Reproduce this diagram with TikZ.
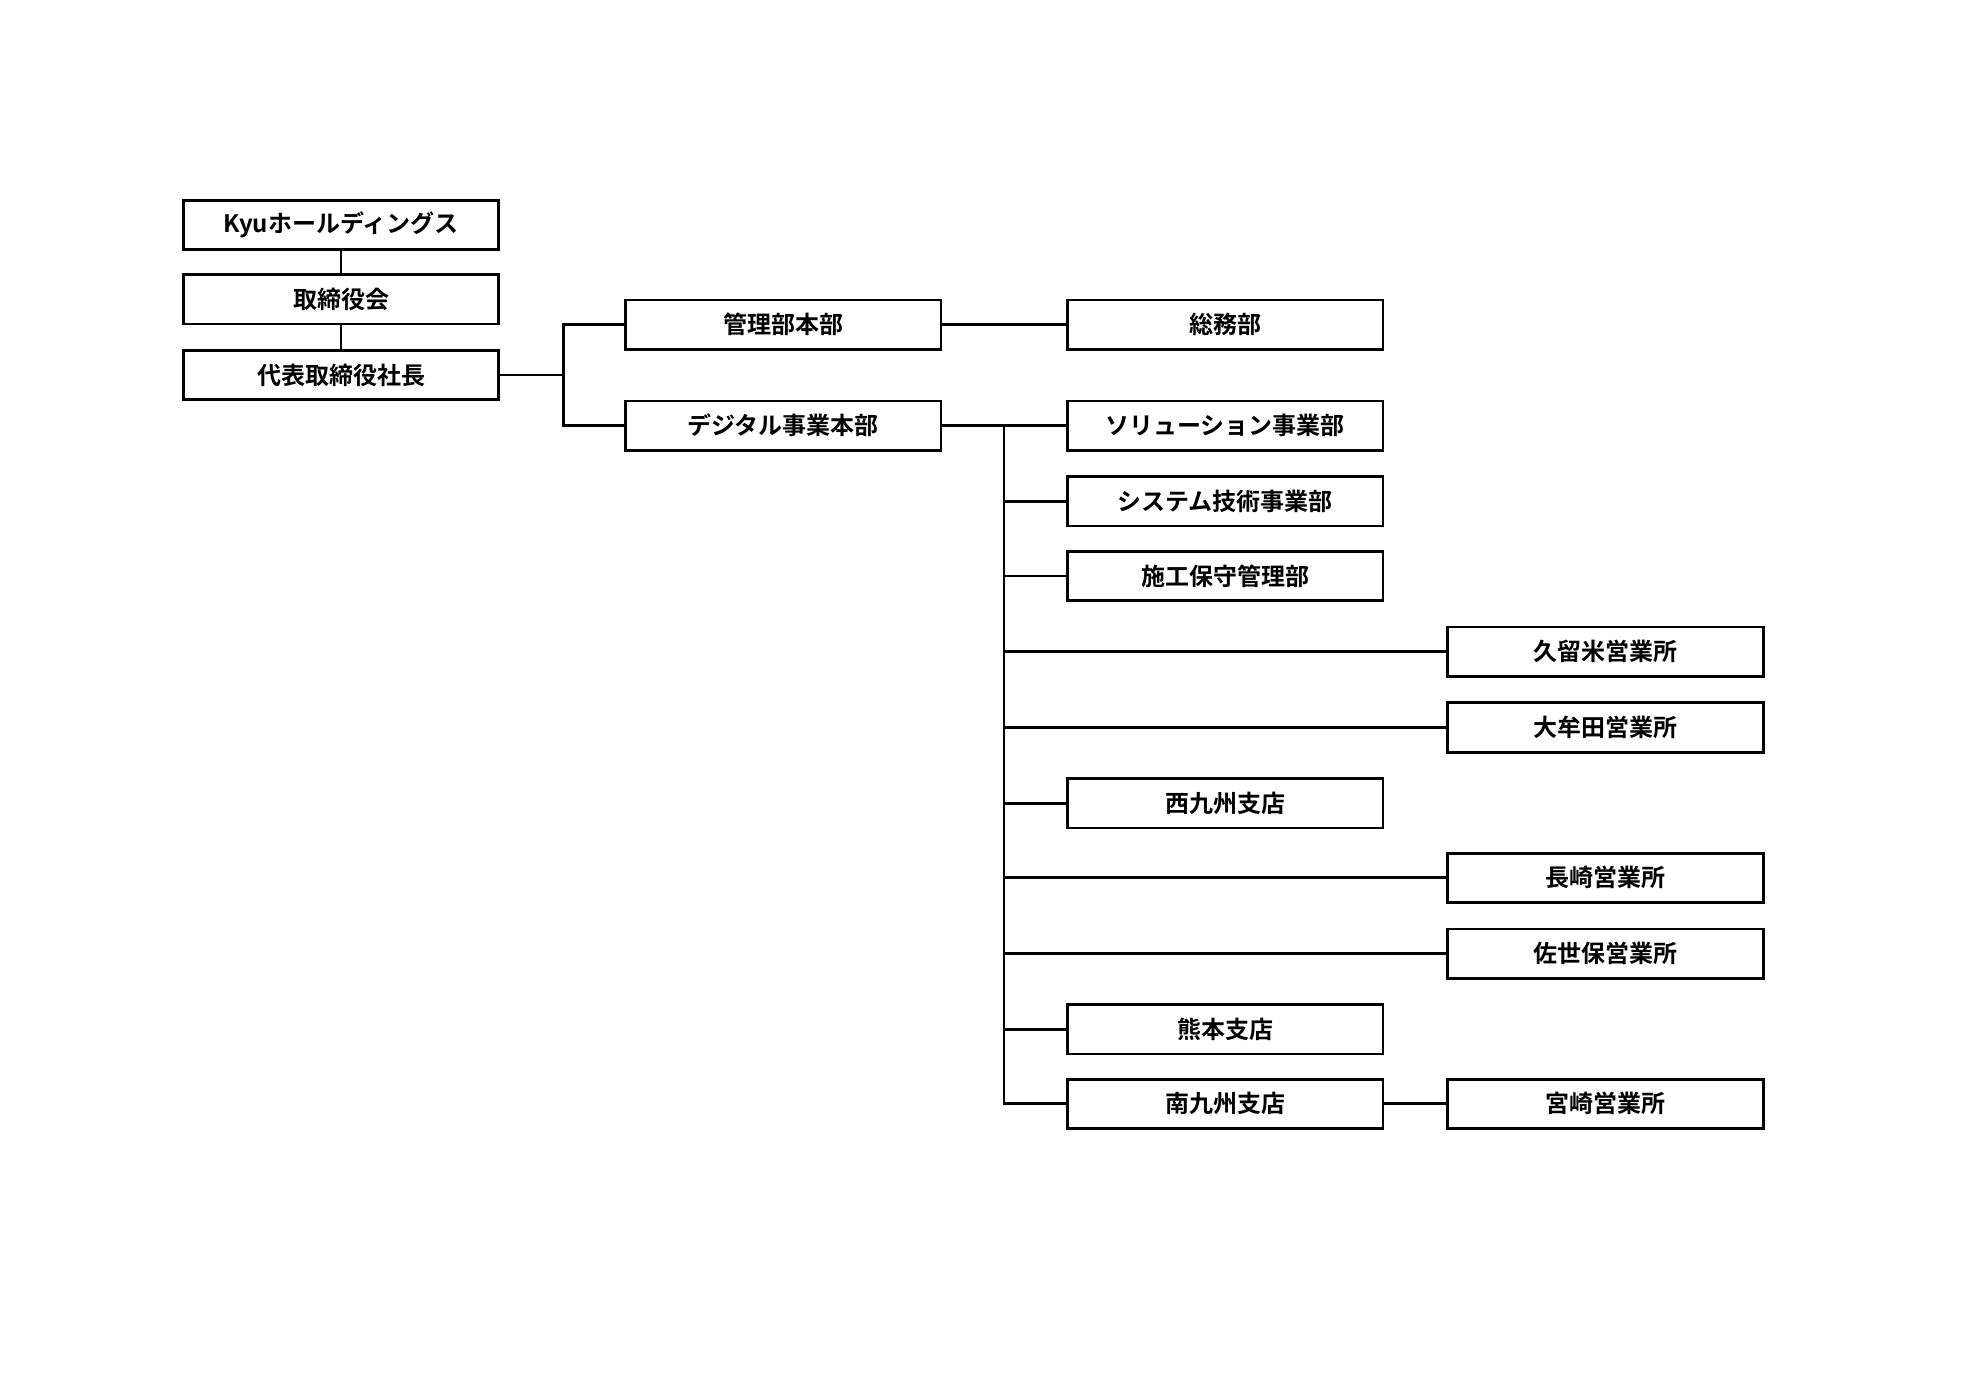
\documentclass[tikz,border=0pt]{standalone}
\usepackage{fontspec}
\newfontfamily\jp{Noto Sans CJK JP}[BoldFont={* Bold}]
\begin{document}
\begin{tikzpicture}[x=0.5pt,y=-0.5pt,
  box/.style={draw,line width=1.1pt,minimum width=125pt,minimum height=19.5pt,inner sep=0pt,font=\jp\bfseries\fontsize{9.5}{11}\selectfont},
  ln/.style={line width=1.1pt}]
\useasboundingbox (0,0) rectangle (1559,1102);
\node[box] (kyu) at (270,178) {Kyuホールディングス};
\node[box] (tori) at (270,237) {取締役会};
\node[box] (pres) at (270,297) {代表取締役社長};
\node[box] (kanri) at (620,257) {管理部本部};
\node[box] (digi) at (620,337) {デジタル事業本部};
\node[box] (somu) at (970,257) {総務部};
\node[box] (sol) at (970,337) {ソリューション事業部};
\node[box] (sys) at (970,397) {システム技術事業部};
\node[box] (seko) at (970,456) {施工保守管理部};
\node[box] (kuru) at (1271,516) {久留米営業所};
\node[box] (omuta) at (1271,576) {大牟田営業所};
\node[box] (nishi) at (970,636) {西九州支店};
\node[box] (naga) at (1271,695) {長崎営業所};
\node[box] (sase) at (1271,755) {佐世保営業所};
\node[box] (kuma) at (970,815) {熊本支店};
\node[box] (minami) at (970,874) {南九州支店};
\node[box] (miya) at (1271,874) {宮崎営業所};
\draw[ln] (kyu) -- (tori);
\draw[ln] (tori) -- (pres);
\draw[ln] (pres.east) -- ++(50,0) coordinate (b1);
\draw[ln] (kanri.west) -| (b1) |- (digi.west);
\draw[ln] (kanri) -- (somu);
\draw[ln] (minami) -- (miya);
\coordinate (t) at (795,337);
\draw[ln] (digi.east) -- (sol.west);
\draw[ln] (t) |- (minami.west);
\foreach \n in {sys,seko,kuru,omuta,nishi,naga,sase,kuma}
  \draw[ln] (t) |- (\n.west);
\end{tikzpicture}
\end{document}
